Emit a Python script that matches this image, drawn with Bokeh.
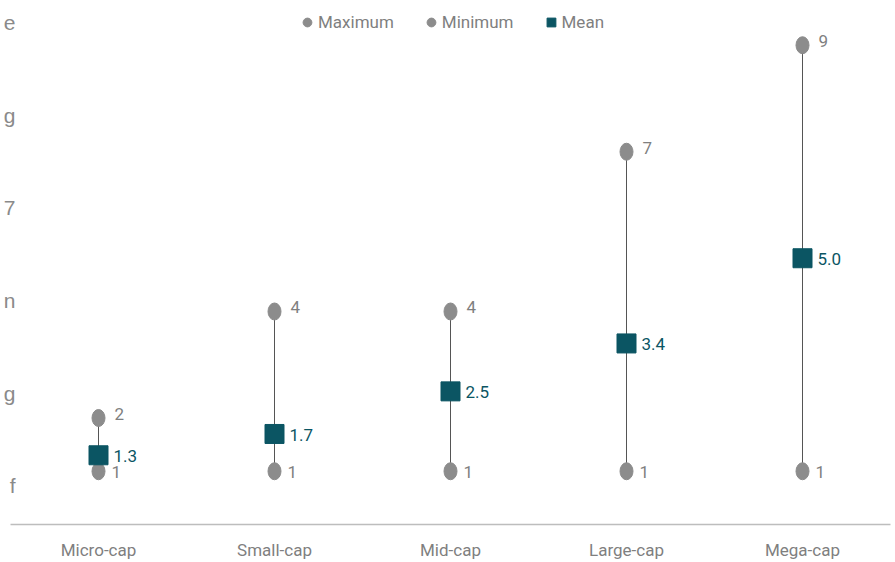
from bokeh.plotting import figure
from bokeh.models import (FactorRange, Range1d, Legend, LegendItem, ColumnDataSource,
                          LinearAxis, FixedTicker)
from bokeh.core.properties import value
from bokeh.embed import file_html
from bokeh.resources import INLINE

categories = ["Micro-cap", "Small-cap", "Mid-cap", "Large-cap", "Mega-cap"]
maximum = [2, 4, 4, 7, 9]
minimum = [1, 1, 1, 1, 1]
mean = [1.3, 1.7, 2.5, 3.4, 5.0]

side_labels = ["f", "g", "n", "7", "g", "e"]
side_ticks = [0.5, 1.5, 2.5, 3.5, 4.5, 5.5]

GRAY = "#8c8c8c"
TEAL = "#0b5563"
TXT = "#7f7f7f"
FONT = "Roboto"

src = ColumnDataSource(dict(
    cat=categories, mx=maximum, mn=minimum, mean=mean,
    mx_t=[str(v) for v in maximum], mn_t=[str(v) for v in minimum],
    mean_t=[f"{v:.1f}" for v in mean],
))

p = figure(x_range=FactorRange(*categories), y_range=Range1d(0, 9.84),
           width=895, height=562, output_backend="svg", toolbar_location=None,
           min_border_left=0, min_border_right=5, min_border_top=0, min_border_bottom=0)
p.outline_line_color = None
p.xgrid.visible = False
p.ygrid.visible = False
p.yaxis.visible = False

# side labels at the left edge
p.extra_y_ranges = {"side": Range1d(0.08, 5.74)}
side = LinearAxis(y_range_name="side", ticker=FixedTicker(ticks=side_ticks),
                  major_label_overrides={t: l for t, l in zip(side_ticks, side_labels)})
side.axis_line_color = None
side.major_tick_line_color = None
side.minor_tick_line_color = None
side.major_tick_out = 0
side.major_tick_in = 0
side.minor_tick_out = 0
side.major_label_standoff = -5
side.major_label_text_font_size = "21px"
side.major_label_text_color = "#8a8a8a"
side.major_label_text_font = "Liberation Sans"
p.add_layout(side, "left")

xa = p.xaxis[0]
xa.axis_line_color = "#bdbdbd"
xa.axis_line_width = 1.5
xa.major_tick_line_color = None
xa.minor_tick_line_color = None
xa.major_tick_out = 0
xa.major_tick_in = 0
xa.major_label_standoff = 15
xa.major_label_text_font_size = "17px"
xa.major_label_text_color = TXT
xa.major_label_text_font = FONT

p.segment(x0="cat", y0="mn", x1="cat", y1="mx", source=src, line_color="#555555", line_width=1)
p.ellipse(x="cat", y="mx", width=13, height=17, width_units="screen", height_units="screen",
          source=src, fill_color=GRAY, line_color=GRAY)
p.ellipse(x="cat", y="mn", width=13, height=17, width_units="screen", height_units="screen",
          source=src, fill_color=GRAY, line_color=GRAY)
p.scatter(x="cat", y="mean", marker="square", size=19, source=src,
          fill_color=TEAL, line_color=TEAL)

p.text(x="cat", y="mx", text="mx_t", source=src, x_offset=16, y_offset=-4,
       text_baseline="middle", text_font_size="17px", text_color=TXT, text_font=value(FONT))
p.text(x="cat", y="mn", text="mn_t", source=src, x_offset=13, y_offset=1,
       text_baseline="middle", text_font_size="17px", text_color=TXT, text_font=value(FONT))
p.text(x="cat", y="mean", text="mean_t", source=src, x_offset=15, y_offset=1,
       text_baseline="middle", text_font_size="17px", text_color=TEAL, text_font=value(FONT))

# legend-only renderers, placed below the visible range
r_max = p.scatter(x=[categories[0]], y=[-5], marker="circle", size=9, fill_color=GRAY, line_color=GRAY)
r_min = p.scatter(x=[categories[0]], y=[-5], marker="circle", size=9, fill_color=GRAY, line_color=GRAY)
r_mean = p.scatter(x=[categories[0]], y=[-5], marker="square", size=10, fill_color=TEAL, line_color=TEAL)

legend = Legend(items=[LegendItem(label="Maximum", renderers=[r_max]),
                       LegendItem(label="Minimum", renderers=[r_min]),
                       LegendItem(label="Mean", renderers=[r_mean])],
                orientation="horizontal", location="top_center")
legend.glyph_width = 22
legend.glyph_height = 22
legend.label_standoff = 0
legend.spacing = 26
legend.padding = 0
legend.margin = 11
legend.border_line_color = None
legend.background_fill_alpha = 0
legend.label_text_font_size = "17px"
legend.label_text_color = TXT
legend.label_text_font = FONT
p.add_layout(legend)

open("out.html", "w").write(file_html(p, INLINE))
